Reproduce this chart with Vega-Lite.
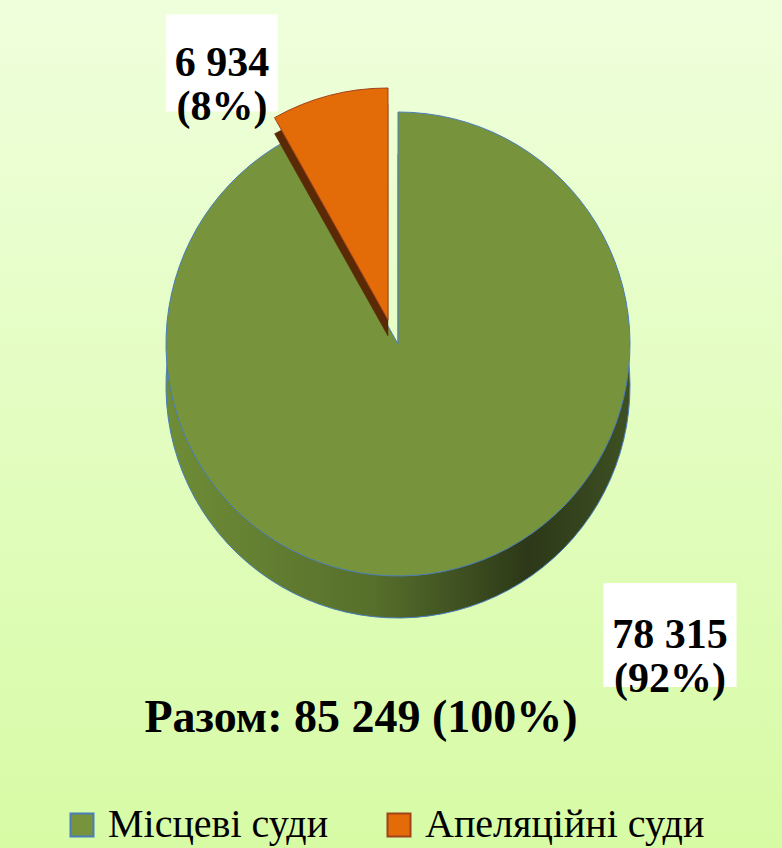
{
  "$schema": "https://vega.github.io/schema/vega-lite/v6.json",
  "width": 782,
  "height": 848,
  "autosize": "none",
  "padding": 0,
  "background": "#E4FDC4",
  "config": {
    "font": "Liberation Serif",
    "view": {"stroke": null},
    "legend": {
      "labelFont": "Liberation Serif", "labelFontSize": 40, "labelColor": "#000000",
      "symbolType": "square", "symbolSize": 529, "symbolStrokeWidth": 2, "symbolOpacity": 1,
      "labelOffset": 6, "columnPadding": 50, "labelLimit": 400, "padding": 0
    }
  },
  "datasets": {
    "courts": [
      {"court": "Місцеві суди", "value": 78315, "ord": 1, "label": "78 315\n(92%)"},
      {"court": "Апеляційні суди", "value": 6934, "ord": 2, "label": "6 934\n(8%)"}
    ],
    "total": [{"t": "Разом: 85 249 (100%)"}]
  },
  "data": {"name": "courts"},
  "layer": [
    {
      "data": {"values": [{}]},
      "mark": {
        "type": "rect",
        "fill": {
          "gradient": "linear", "x1": 0, "y1": 0, "x2": 0, "y2": 1,
          "stops": [{"offset": 0, "color": "#EFFFDC"}, {"offset": 1, "color": "#D7FBA5"}]
        }
      },
      "encoding": {}
    },
    {
      "mark": {
        "type": "arc", "outerRadius": 232, "xOffset": 7, "yOffset": -38,
        "fill": {
          "gradient": "linear", "x1": 0, "y1": 0, "x2": 1, "y2": 0,
          "stops": [
            {"offset": 0, "color": "#6F8D37"},
            {"offset": 0.45, "color": "#566F2B"},
            {"offset": 0.78, "color": "#2C3818"},
            {"offset": 1, "color": "#3E5023"}
          ]
        },
        "stroke": "#4A7EBB", "strokeWidth": 1
      },
      "encoding": {
        "theta": {"field": "value", "type": "quantitative", "stack": true},
        "order": {"field": "ord", "type": "quantitative"},
        "fillOpacity": {"condition": {"test": "datum.court === 'Місцеві суди'", "value": 1}, "value": 0},
        "strokeOpacity": {"condition": {"test": "datum.court === 'Місцеві суди'", "value": 1}, "value": 0}
      }
    },
    {
      "mark": {"type": "arc", "outerRadius": 232, "xOffset": 7, "yOffset": -80, "strokeWidth": 1},
      "encoding": {
        "theta": {"field": "value", "type": "quantitative", "stack": true},
        "order": {"field": "ord", "type": "quantitative"},
        "fill": {
          "field": "court", "type": "nominal",
          "scale": {"domain": ["Місцеві суди", "Апеляційні суди"], "range": ["#77933C", "#E36C09"]},
          "legend": {"title": null, "orient": "none", "direction": "horizontal", "legendX": 62, "legendY": 805}
        },
        "stroke": {
          "field": "court", "type": "nominal",
          "scale": {"domain": ["Місцеві суди", "Апеляційні суди"], "range": ["#4A7EBB", "#A0421B"]},
          "legend": {"title": null, "orient": "none", "direction": "horizontal", "legendX": 62, "legendY": 805}
        },
        "fillOpacity": {"condition": {"test": "datum.court === 'Місцеві суди'", "value": 1}, "value": 0},
        "strokeOpacity": {"condition": {"test": "datum.court === 'Місцеві суди'", "value": 1}, "value": 0}
      }
    },
    {
      "mark": {"type": "arc", "outerRadius": 232, "xOffset": -3, "yOffset": -88, "fill": "#5A2A07", "stroke": "#5A2A07", "strokeWidth": 0.5},
      "encoding": {
        "theta": {"field": "value", "type": "quantitative", "stack": true},
        "order": {"field": "ord", "type": "quantitative"},
        "fillOpacity": {"condition": {"test": "datum.court === 'Апеляційні суди'", "value": 1}, "value": 0},
        "strokeOpacity": {"condition": {"test": "datum.court === 'Апеляційні суди'", "value": 1}, "value": 0}
      }
    },
    {
      "mark": {"type": "arc", "outerRadius": 232, "xOffset": -3, "yOffset": -104, "fill": "#E36C09", "stroke": "#A0421B", "strokeWidth": 1},
      "encoding": {
        "theta": {"field": "value", "type": "quantitative", "stack": true},
        "order": {"field": "ord", "type": "quantitative"},
        "fillOpacity": {"condition": {"test": "datum.court === 'Апеляційні суди'", "value": 1}, "value": 0},
        "strokeOpacity": {"condition": {"test": "datum.court === 'Апеляційні суди'", "value": 1}, "value": 0}
      }
    },
    {
      "transform": [{"filter": "datum.court === 'Апеляційні суди'"}],
      "mark": {"type": "point", "shape": "M-1.15,-1H1.15V1H-1.15Z", "size": 9409, "filled": true, "fill": "#FFFFFF", "opacity": 1, "strokeWidth": 0, "xOffset": -169, "yOffset": -361},
      "encoding": {}
    },
    {
      "transform": [{"filter": "datum.court === 'Місцеві суди'"}],
      "mark": {"type": "point", "shape": "M-1.28,-1H1.28V1H-1.28Z", "size": 10816, "filled": true, "fill": "#FFFFFF", "opacity": 1, "strokeWidth": 0, "xOffset": 279, "yOffset": 211},
      "encoding": {}
    },
    {
      "transform": [{"filter": "datum.court === 'Апеляційні суди'"}],
      "mark": {"type": "text", "font": "Liberation Serif", "fontWeight": "bold", "fontSize": 42, "lineHeight": 44, "lineBreak": "\n", "align": "center", "baseline": "middle", "color": "#000000", "xOffset": -169, "yOffset": -361},
      "encoding": {"text": {"field": "label", "type": "nominal"}}
    },
    {
      "transform": [{"filter": "datum.court === 'Місцеві суди'"}],
      "mark": {"type": "text", "font": "Liberation Serif", "fontWeight": "bold", "fontSize": 42, "lineHeight": 44, "lineBreak": "\n", "align": "center", "baseline": "middle", "color": "#000000", "xOffset": 279, "yOffset": 211},
      "encoding": {"text": {"field": "label", "type": "nominal"}}
    },
    {
      "data": {"name": "total"},
      "mark": {"type": "text", "font": "Liberation Serif", "fontWeight": "bold", "fontSize": 46, "align": "center", "baseline": "middle", "color": "#000000", "xOffset": -30, "yOffset": 294},
      "encoding": {"text": {"field": "t", "type": "nominal"}}
    }
  ]
}
